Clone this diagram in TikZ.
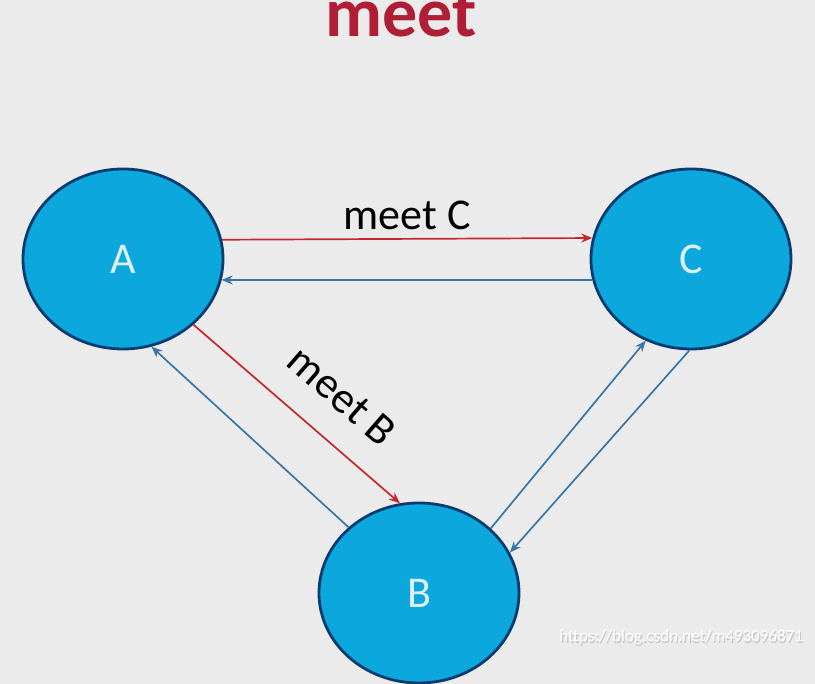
\documentclass[tikz,border=0pt]{standalone}
\usepackage{fontspec}
\setmainfont{Carlito}
\usetikzlibrary{shapes.geometric,arrows.meta}
\definecolor{bgc}{HTML}{EBEBEB}
\definecolor{ballfill}{HTML}{0BA7DD}
\definecolor{balledge}{HTML}{0B3C70}
\definecolor{redline}{HTML}{C4282E}
\definecolor{blueline}{HTML}{3A75A8}
\definecolor{bluetip}{HTML}{1262B4}
\definecolor{titlered}{HTML}{B01E36}
\definecolor{letter}{HTML}{DDF0F8}
\tikzset{
  ball/.style={ellipse, draw=balledge, line width=2.8pt, fill=ballfill,
    minimum width=200pt, minimum height=180pt, inner sep=0pt,
    text=letter, font=\fontsize{44}{44}\selectfont},
  redarrow/.style={draw=redline, line width=1.7pt, -{Stealth[length=11pt,width=9pt,fill=redline]}},
  bluearrow/.style={draw=blueline, line width=1.7pt, -{Stealth[length=11pt,width=9pt,fill=bluetip]}},
  lbl/.style={font=\fontsize{44}{44}\selectfont, text=black}
}
\begin{document}
\begin{tikzpicture}[x=1pt,y=-1pt]
\fill[bgc] (0,0) rectangle (815,684);
\useasboundingbox (0,0) rectangle (815,684);
\node[anchor=base, text=titlered, font=\bfseries\fontsize{70}{70}\selectfont] (title) at (401,37) {meet};
\node[ball] (A) at (123,259) {A};
\node[ball] (C) at (691,259) {C};
\node[ball] (B) at (419,593) {B};
\draw[redarrow] (A.11.5) -- (C.168) node[midway, lbl, above=5pt] (lc) {meet C};
\draw[bluearrow] (C.192) -- (A.348);
\draw[redarrow] (A.317.5) -- (B.102);
\node[lbl, rotate=-41] (lb) at (342,396) {meet B};
\draw[bluearrow] (B.137) -- (A.288);
\draw[bluearrow] (B.42) -- (C.241.5);
\draw[bluearrow] (C.269) -- (B.24);
\node[text=gray!45, font=\fontsize{17}{17}\selectfont, anchor=east] (wm0) at (807.6,638.6) {https://blog.csdn.net/m493096871};
\node[text=white, font=\fontsize{17}{17}\selectfont, anchor=east] (wm) at (806.5,637.5) {https://blog.csdn.net/m493096871};
\end{tikzpicture}
\end{document}
